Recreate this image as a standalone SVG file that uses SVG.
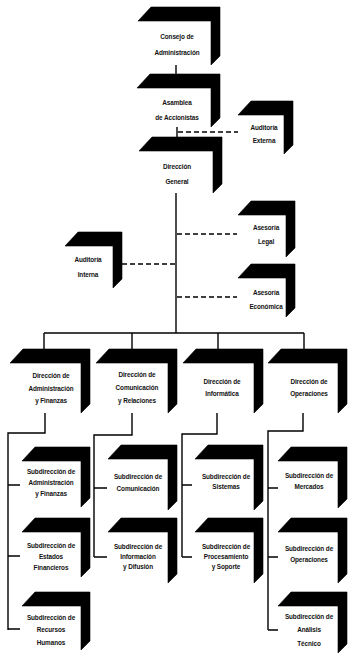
<svg xmlns="http://www.w3.org/2000/svg" width="348" height="655" viewBox="0 0 348 655">
<style>
.n{fill:#000;stroke:#000;stroke-width:0.6;stroke-linejoin:round}
.t{font-family:"Liberation Sans",Arial,sans-serif;font-size:6.4px;font-weight:bold;letter-spacing:-0.1px;fill:#111;text-anchor:middle}
.c{fill:none;stroke:#000;stroke-width:1.4}
.d{fill:none;stroke:#000;stroke-width:1.6;stroke-dasharray:5 3}
</style>
<rect width="348" height="655" fill="#fff"/>
<g id="connectors">
<path class="c" d="M176,65 V75"/>
<path class="c" d="M177,127 V138"/>
<path class="d" d="M178,132 H238"/>
<path class="c" d="M176,193 V333"/>
<path class="d" d="M177,234 H237"/>
<path class="d" d="M122,264 H176"/>
<path class="d" d="M177,297 H237"/>
<path class="c" d="M44,333 H304"/>
<path class="c" d="M44,333 V350 M132,333 V350 M218,333 V350 M304,333 V350"/>
<path class="c" d="M45,413 V433 H8 V630 M8,485 H20 M8,556 H20 M8,629 H20"/>
<path class="c" d="M132,413 V435 H94 V557 M94,488 H107 M94,557 H107"/>
<path class="c" d="M217,413 V434 H182 V557 M182,485 H192 M182,557 H192"/>
<path class="c" d="M303,413 V431 H268 V630 M268,488 H278 M268,557 H278 M268,630 H278"/>
</g>
<g id="consejo"><path class="n" d="M138,21 l13,-14 H220 V56 l-9,9 V21 Z"/><text class="t" x="177" y="39">Consejo de</text><text class="t" x="177" y="55">Administración</text></g>
<g id="asamblea"><path class="n" d="M137,88 l13,-14 H220 V118 l-9,9 V88 Z"/><text class="t" x="177" y="105">Asamblea</text><text class="t" x="177" y="120">de Accionistas</text></g>
<g id="auditoria-externa"><path class="n" d="M238,115 l13,-14 H293 V145 l-9,9 V115 Z"/><text class="t" x="264" y="130">Auditoría</text><text class="t" x="264" y="143">Externa</text></g>
<g id="direccion-general"><path class="n" d="M139,151 l13,-14 H222 V184 l-9,9 V151 Z"/><text class="t" x="177" y="169">Dirección</text><text class="t" x="177" y="184">General</text></g>
<g id="asesoria-legal"><path class="n" d="M238,215 l13,-14 H295 V248 l-9,9 V215 Z"/><text class="t" x="266" y="230">Asesoría</text><text class="t" x="266" y="244">Legal</text></g>
<g id="auditoria-interna"><path class="n" d="M65,246 l13,-14 H122 V279 l-9,9 V246 Z"/><text class="t" x="88" y="262">Auditoría</text><text class="t" x="88" y="277">Interna</text></g>
<g id="asesoria-economica"><path class="n" d="M238,278 l13,-14 H295 V308 l-9,9 V278 Z"/><text class="t" x="266" y="295">Asesoría</text><text class="t" x="266" y="309">Económica</text></g>
<g id="dir-admin"><path class="n" d="M10,363 l13,-14 H90 V404 l-9,9 V363 Z"/><text class="t" x="51" y="378">Dirección de</text><text class="t" x="51" y="391">Administración</text><text class="t" x="51" y="403">y Finanzas</text></g>
<g id="dir-comunicacion"><path class="n" d="M96,363 l13,-14 H177 V404 l-9,9 V363 Z"/><text class="t" x="137" y="377">Dirección de</text><text class="t" x="137" y="390">Comunicación</text><text class="t" x="137" y="403">y Relaciones</text></g>
<g id="dir-informatica"><path class="n" d="M183,363 l13,-14 H263 V404 l-9,9 V363 Z"/><text class="t" x="222" y="384">Dirección de</text><text class="t" x="222" y="396">Informática</text></g>
<g id="dir-operaciones"><path class="n" d="M268,363 l13,-14 H347 V404 l-9,9 V363 Z"/><text class="t" x="309" y="384">Dirección de</text><text class="t" x="309" y="396">Operaciones</text></g>
<g id="sub-admin"><path class="n" d="M22,461 l13,-14 H90 V498 l-9,9 V461 Z"/><text class="t" x="51" y="474">Subdirección de</text><text class="t" x="51" y="485">Administración</text><text class="t" x="51" y="496">y Finanzas</text></g>
<g id="sub-estados"><path class="n" d="M22,532 l13,-14 H90 V568 l-9,9 V532 Z"/><text class="t" x="51" y="548">Subdirección de</text><text class="t" x="51" y="559">Estados</text><text class="t" x="51" y="570">Financieros</text></g>
<g id="sub-recursos"><path class="n" d="M22,606 l13,-14 H90 V641 l-9,9 V606 Z"/><text class="t" x="51" y="620">Subdirección de</text><text class="t" x="51" y="632">Recursos</text><text class="t" x="51" y="645">Humanos</text></g>
<g id="sub-comunicacion"><path class="n" d="M108,459 l13,-14 H177 V501 l-9,9 V459 Z"/><text class="t" x="138" y="479">Subdirección de</text><text class="t" x="138" y="491">Comunicación</text></g>
<g id="sub-informacion"><path class="n" d="M108,532 l13,-14 H177 V574 l-9,9 V532 Z"/><text class="t" x="138" y="549">Subdirección de</text><text class="t" x="138" y="559">Información</text><text class="t" x="138" y="569">y Difusión</text></g>
<g id="sub-sistemas"><path class="n" d="M195,459 l13,-14 H263 V501 l-9,9 V459 Z"/><text class="t" x="226" y="479">Subdirección de</text><text class="t" x="226" y="489">Sistemas</text></g>
<g id="sub-procesamiento"><path class="n" d="M195,532 l13,-14 H263 V574 l-9,9 V532 Z"/><text class="t" x="226" y="549">Subdirección de</text><text class="t" x="226" y="559">Procesamiento</text><text class="t" x="226" y="569">y Soporte</text></g>
<g id="sub-mercados"><path class="n" d="M278,461 l13,-14 H347 V499 l-9,9 V461 Z"/><text class="t" x="309" y="478">Subdirección de</text><text class="t" x="309" y="489">Mercados</text></g>
<g id="sub-operaciones"><path class="n" d="M278,532 l13,-14 H347 V574 l-9,9 V532 Z"/><text class="t" x="309" y="551">Subdirección de</text><text class="t" x="309" y="562">Operaciones</text></g>
<g id="sub-analisis"><path class="n" d="M278,606 l13,-14 H347 V644 l-9,9 V606 Z"/><text class="t" x="309" y="619">Subdirección de</text><text class="t" x="309" y="632">Análisis</text><text class="t" x="309" y="646">Técnico</text></g>
</svg>
